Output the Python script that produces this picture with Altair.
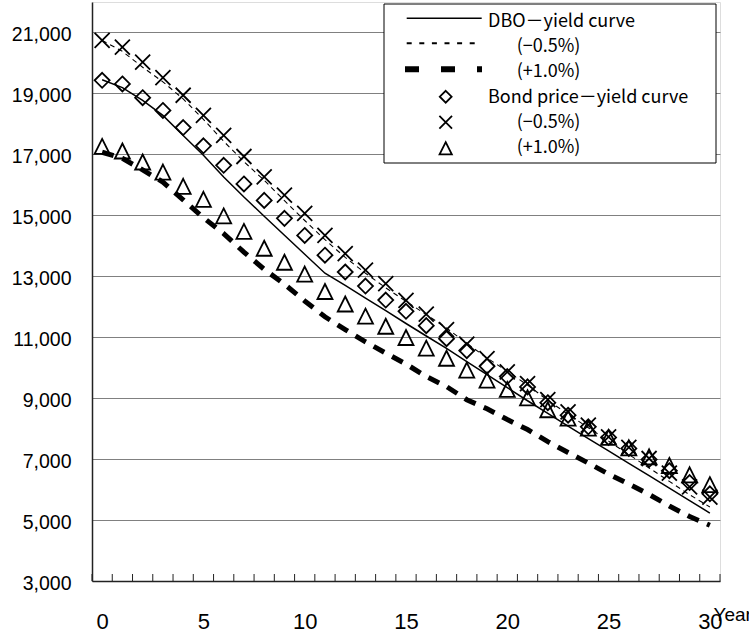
import altair as alt
import pandas as pd

# ---- data -------------------------------------------------------------
years = list(range(31))

# DBO under the yield curve and under parallel shifts
dbo_base = [19450, 19190, 18770, 18280, 17620, 16970, 16260, 15600, 14970, 14345,
            13720, 13100, 12700, 12280, 11870, 11450, 11040, 10630, 10200, 9770,
            9345, 8915, 8500, 8080, 7675, 7270, 6860, 6455, 6050, 5640, 5230]
dbo_minus = [20740, 20380, 19860, 19380, 18820, 18150, 17430, 16760, 16150, 15480,
             14830, 14200, 13620, 13100, 12620, 12180, 11740, 11300, 10800, 10320,
             9880, 9430, 8930, 8470, 8030, 7590, 7150, 6710, 6270, 5830, 5430]
dbo_plus = [17070, 16870, 16490, 16090, 15510, 14920, 14400, 13790, 13230, 12740,
            12190, 11670, 11250, 10850, 10480, 10120, 9710, 9380, 8950, 8650,
            8300, 7970, 7575, 7215, 6870, 6510, 6180, 5840, 5460, 5115, 4830]

# bond price under the same curves
bond_base = [19430, 19310, 18860, 18440, 17880, 17280, 16640, 16030, 15490, 14900,
             14340, 13690, 13140, 12680, 12220, 11850, 11380, 10950, 10560, 10050,
             9710, 9370, 8850, 8440, 8060, 7710, 7350, 6990, 6620, 6230, 5860]
bond_minus = [20740, 20520, 20030, 19520, 18940, 18280, 17620, 16930, 16260, 15660,
              15060, 14345, 13745, 13200, 12760, 12210, 11755, 11250, 10770, 10300,
              9860, 9480, 8950, 8550, 8115, 7730, 7385, 7020, 6540, 6090, 5750]
bond_plus = [17260, 17110, 16750, 16420, 15950, 15525, 14980, 14470, 13920, 13460,
             13070, 12500, 12090, 11690, 11360, 10990, 10640, 10310, 9920, 9590,
             9285, 9010, 8620, 8345, 8015, 7710, 7370, 7075, 6790, 6485, 6160]

y_ticks = [3000, 5000, 7000, 9000, 11000, 13000, 15000, 17000, 19000, 21000]
x_labels = [0, 5, 10, 15, 20, 25, 30]
minor_ticks = [k - 0.5 for k in range(32)]

legend_lines = ["DBO\uff0dyield curve", "(\u22120.5%)", "(+1.0%)"]
legend_points = ["Bond price\uff0dyield curve", "(\u22120.5%)", "(+1.0%)"]


def frame(values):
    return pd.DataFrame({"year": years, "value": values})


# ---- scales / axes ----------------------------------------------------
W, H = 628, 579
xs = alt.Scale(domain=[-0.5, 30.5], nice=False, zero=False)
ys = alt.Scale(domain=[3000, 22000], nice=False, zero=False)

x_axis = alt.Axis(values=x_labels, tickSize=0, labelPadding=30, grid=False,
                  domainColor="#222222", domainWidth=1.5,
                  labelFont="Liberation Sans", labelFontSize=22,
                  labelColor="black", labelFlush=False,
                  title="Year", titleX=621, titleY=39, titleAlign="left",
                  titleBaseline="alphabetic", titleFont="Liberation Sans",
                  titleFontSize=19, titleFontWeight="normal", titleColor="black")
y_axis = alt.Axis(values=y_ticks, format=",.0f", tickSize=0, labelPadding=21,
                  grid=True, gridColor="#808080", gridWidth=1,
                  domainColor="#222222", domainWidth=1.5,
                  labelFont="Liberation Sans", labelFontSize=19.5, labelColor="black",
                  labelOffset=2.5, title=None)

X = alt.X("year:Q", scale=xs, axis=x_axis)
Y = alt.Y("value:Q", scale=ys, axis=y_axis)

# inward minor ticks at the category boundaries
ticks = alt.Chart(pd.DataFrame({"year": minor_ticks})).mark_rule(
    color="#222222", strokeWidth=1
).encode(x=X, y=alt.value(H), y2=alt.value(H - 7))

line_base = alt.Chart(frame(dbo_base)).mark_line(color="black", strokeWidth=1.5).encode(x=X, y=Y)
line_minus = alt.Chart(frame(dbo_minus)).mark_line(
    color="black", strokeWidth=1.1, strokeDash=[5, 4]).encode(x=X, y=Y)
line_plus = alt.Chart(frame(dbo_plus)).mark_line(
    color="black", strokeWidth=5, strokeDash=[12, 9], strokeCap="butt").encode(x=X, y=Y)

DIAMOND = "M0,-1L1,0L0,1L-1,0Z"
CROSS = "M-1,-1L1,1M1,-1L-1,1"
TRIANGLE = "M0,-1L1,1L-1,1Z"


def markers(values, shape):
    return alt.Chart(frame(values)).mark_point(
        shape=shape, size=225, filled=False, stroke="black", strokeWidth=1.8, opacity=1
    ).encode(x=X, y=Y)


pts_base = markers(bond_base, DIAMOND)
pts_minus = markers(bond_minus, CROSS)
pts_plus = markers(bond_plus, TRIANGLE)

# ---- legend box -------------------------------------------------------
one = alt.Data(values=[{"k": 1}])
LEG_FONT = "Noto Sans CJK JP"

legend_parts = [
    alt.Chart(one).mark_rect(fill="white", stroke="black", strokeWidth=1).encode(
        x=alt.value(292), x2=alt.value(624), y=alt.value(2), y2=alt.value(161)),
    alt.Chart(one).mark_rule(color="black", strokeWidth=1.5).encode(
        x=alt.value(314.7), x2=alt.value(389.7), y=alt.value(16.3)),
    alt.Chart(one).mark_rule(color="black", strokeWidth=2, strokeDash=[5, 7.6]).encode(
        x=alt.value(314.7), x2=alt.value(389.7), y=alt.value(41.3)),
    alt.Chart(one).mark_rule(color="black", strokeWidth=6, strokeDash=[14, 22], strokeCap="butt").encode(
        x=alt.value(313), x2=alt.value(390), y=alt.value(67.3)),
]
for shape, ypos, sz in [(DIAMOND, 94.7, 140), (CROSS, 120.3, 160), (TRIANGLE, 146.3, 150)]:
    legend_parts.append(
        alt.Chart(one).mark_point(shape=shape, size=sz, filled=False, stroke="black",
                                  strokeWidth=1.8, opacity=1).encode(
            x=alt.value(353.7), y=alt.value(ypos)))

text_rows = [(legend_lines[0], 396, 24.7), (legend_lines[1], 424.7, 50),
             (legend_lines[2], 424.7, 75.3), (legend_points[0], 396, 100.6),
             (legend_points[1], 424.7, 126), (legend_points[2], 424.7, 151.3)]
for label, xpos, ypos in text_rows:
    legend_parts.append(
        alt.Chart(one).mark_text(align="left", baseline="alphabetic", font=LEG_FONT,
                                 fontSize=18, color="black").encode(
            x=alt.value(xpos), y=alt.value(ypos), text=alt.value(label)))

chart = alt.layer(
    ticks, line_plus, line_minus, line_base, pts_plus, pts_minus, pts_base, *legend_parts
).properties(
    width=W, height=H,
    autosize=alt.AutoSizeParams(type="none"),
    padding={"left": 92, "top": 2, "right": 29, "bottom": 57},
).configure_view(
    stroke="#555555", strokeWidth=1
).configure(background="white")

chart.save("out.html", embed_options={"renderer": "svg", "actions": False})
